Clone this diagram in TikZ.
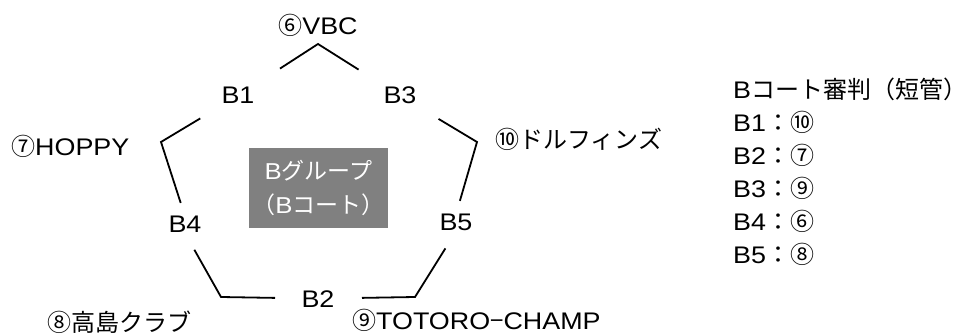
\documentclass[tikz,border=0pt]{standalone}
\usepackage{fontspec}
\setmainfont{Liberation Sans}[FakeStretch=1.12]
\newfontfamily\jp{Noto Sans CJK JP}
\tikzset{
  every node/.style={font=\fontsize{24}{30}\selectfont,inner sep=0pt},
  equipo/.style={anchor=base},
  nombre/.style={anchor=base west},
  lado/.style={line width=1.8pt},
  grupo/.style={fill=gray,text=white,minimum width=139pt,minimum height=80pt,align=center,font=\fontsize{23}{34}\selectfont},
}
\begin{document}
\begin{tikzpicture}[x=1pt,y=-1pt]
   \useasboundingbox (0,0) rectangle (957,336);

   %equipos
   \node[equipo] (b1) at (238,104) {B1};
   \node[equipo] (b3) at (400,104) {B3};
   \node[equipo] (b4) at (185,233) {B4};
   \node[equipo] (b5) at (456,231) {B5};
   \node[equipo] (b2) at (318,307) {B2};

   %esquinas
   \coordinate (c6) at (318,44);
   \coordinate (c7) at (161,142);
   \coordinate (c10) at (477,142);
   \coordinate (c8) at (221,297);
   \coordinate (c9) at (415,297);

   %nombres
   \node[equipo] (vbc) at (318,35) {{\jp ⑥}VBC};
   \node[nombre] (hoppy) at (11,156) {{\jp ⑦}HOPPY};
   \node[nombre] (dolf) at (495,149) {\jp ⑩ドルフィンズ};
   \node[nombre] (taka) at (47,331) {\jp ⑧高島クラブ};
   \node[nombre] (toto) at (352,329) {{\jp ⑨}TOTORO{\jp −}CHAMP};

   %lados
   \draw[lado,shorten <=50pt,shorten >=49pt] (b1.center) -- (c6) -- (b3.center);
   \draw[lado,shorten <=44pt,shorten >=14pt] (b1.center) -- (c7) -- (b4.north);
   \draw[lado,shorten <=45pt,shorten >=14pt] (b3.center) -- (c10) -- (b5.north);
   \draw[lado,shorten <=19pt,shorten >=43pt] (b4.south) -- (c8) -- (b2.center);
   \draw[lado,shorten <=44pt,shorten >=20pt] (b2.center) -- (c9) -- (b5.south);

   %centro
   \node[grupo] (grp) at (318.5,188) {B{\jp グループ}\\{\jp （}B{\jp コート）}};

   %arbitros
   \node[nombre] (arb) at (733,99) {B{\jp コート審判（短管）}};
   \node[nombre] (r1) at (733,132) {B1{\jp ：⑩}};
   \node[nombre] (r2) at (733,165) {B2{\jp ：⑦}};
   \node[nombre] (r3) at (733,198) {B3{\jp ：⑨}};
   \node[nombre] (r4) at (733,231) {B4{\jp ：⑥}};
   \node[nombre] (r5) at (733,264) {B5{\jp ：⑧}};
\end{tikzpicture}
\end{document}
